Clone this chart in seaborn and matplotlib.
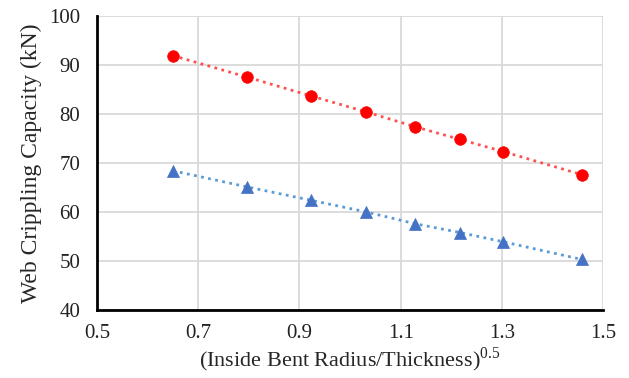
import pandas as pd
import matplotlib
matplotlib.use('Agg')
import matplotlib.pyplot as plt
import seaborn as sns

# values
ratio_sqrt = [0.650, 0.797, 0.922, 1.032, 1.128, 1.217, 1.303, 1.458]
capacity_red = [91.9, 87.5, 83.7, 80.4, 77.4, 74.8, 72.3, 67.6]
capacity_blue = [68.4, 65.1, 62.4, 60.0, 57.6, 55.8, 53.9, 50.3]

x_ticks = [0.5, 0.7, 0.9, 1.1, 1.3, 1.5]
y_ticks = [40, 50, 60, 70, 80, 90, 100]

sns.set_style('white')
plt.rcParams['font.family'] = ['Liberation Serif', 'DejaVu Serif']
plt.rcParams['mathtext.fontset'] = 'stix'

df = pd.DataFrame({
    'x': ratio_sqrt + ratio_sqrt,
    'y': capacity_red + capacity_blue,
    'series': ['red'] * len(ratio_sqrt) + ['blue'] * len(ratio_sqrt),
})

fig = plt.figure(figsize=(6.29, 3.78), dpi=100)
ax = fig.add_axes([0.154, 0.18, 0.805, 0.778])

red = df[df['series'] == 'red']
blue = df[df['series'] == 'blue']

# dotted trend lines
sns.lineplot(data=red, x='x', y='y', ax=ax, color='#FF5050', linestyle=(0, (1, 1.6)),
             linewidth=2, legend=False)
sns.lineplot(data=blue, x='x', y='y', ax=ax, color='#5B9BD5', linestyle=(0, (1, 1.6)),
             linewidth=2, legend=False)

# markers
sns.scatterplot(data=red, x='x', y='y', ax=ax, color='#FF0000', marker='o', s=70,
                edgecolor='#FF0000', linewidth=0.5, zorder=3, legend=False)
sns.scatterplot(data=blue, x='x', y='y', ax=ax, color='#4472C4', marker='^', s=75,
                edgecolor='#4472C4', linewidth=0.5, zorder=3, legend=False)

ax.set_xlim(0.5, 1.5)
ax.set_ylim(40, 100)
ax.set_xticks(x_ticks)
ax.set_yticks(y_ticks)
ax.set_xticklabels([f'{t:.1f}' for t in x_ticks])
ax.grid(True, color='#D9D9D9', linewidth=1.3)
ax.set_axisbelow(True)

for side in ['top', 'right']:
    ax.spines[side].set_visible(False)
for side in ['left', 'bottom']:
    ax.spines[side].set_color('black')
    ax.spines[side].set_linewidth(2)

ax.tick_params(axis='y', length=0, labelsize=15, pad=12, colors='#222222')
ax.tick_params(axis='x', length=0, labelsize=15, pad=10, colors='#222222')
ax.set_xlabel(r'(Inside Bent Radius/Thickness)$^{\mathregular{0.5}}$', fontsize=16, labelpad=2)
ax.set_ylabel('Web Crippling Capacity (kN)', fontsize=17, labelpad=5)

fig.savefig('out.png', dpi=100)
